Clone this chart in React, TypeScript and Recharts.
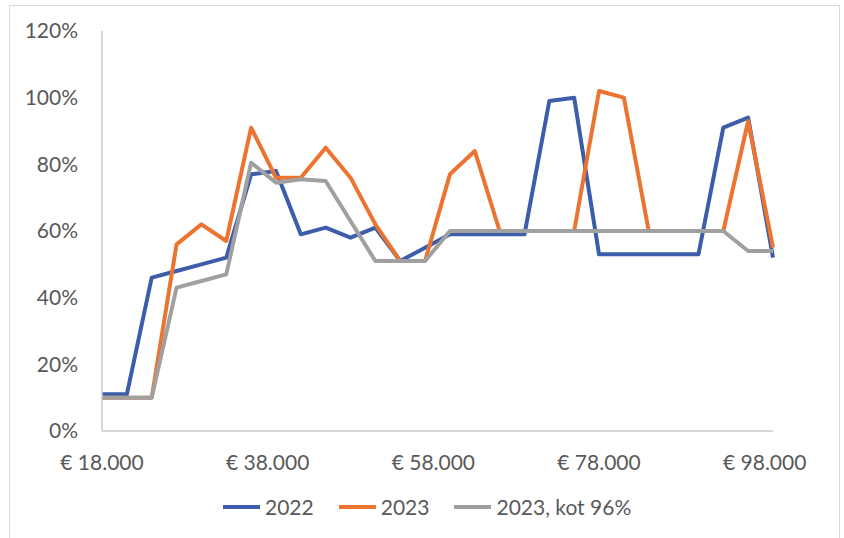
import React from "react";
import { LineChart, Line, XAxis, YAxis } from "recharts";

// inkomen in euro, stap van 3.000
const incomes = [
  18000, 21000, 24000, 27000, 30000, 33000, 36000, 39000, 42000, 45000,
  48000, 51000, 54000, 57000, 60000, 63000, 66000, 69000, 72000, 75000,
  78000, 81000, 84000, 87000, 90000, 93000, 96000, 99000,
];

// percentages per reeks
const values2022 = [
  11, 11, 46, 48, 50, 52, 77, 78, 59, 61, 58, 61, 51, 55, 59, 59, 59, 59, 99,
  100, 53, 53, 53, 53, 53, 91, 94, 52,
];
const values2023 = [
  10, 10, 10, 56, 62, 57, 91, 76, 76, 85, 76, 62, 51, 51, 77, 84, 60, 60, 60,
  60, 102, 100, 60, 60, 60, 60, 93, 55,
];
const values2023Kot = [
  10, 10, 10, 43, 45, 47, 80.5, 74.5, 75.5, 75, 63, 51, 51, 51, 60, 60, 60,
  60, 60, 60, 60, 60, 60, 60, 60, 60, 54, 54,
];

const xTicks = [18000, 38000, 58000, 78000, 98000];
const yTicks = [0, 20, 40, 60, 80, 100, 120];

const series = [
  { key: "v2022", name: "2022", color: "#3C5DAA" },
  { key: "v2023", name: "2023", color: "#EC7430" },
  { key: "v2023kot", name: "2023, kot 96%", color: "#A0A0A0" },
];

const TEXT = "#595959";
const AXIS = "#c8c8c8";
const FONT = "Lato, 'Open Sans', sans-serif";

const data = incomes.map((income, i) => ({
  income,
  v2022: values2022[i],
  v2023: values2023[i],
  v2023kot: values2023Kot[i],
}));

const formatEuro = (v: number) => `€ ${Math.round(v / 1000)}.000`;

export default function App() {
  return (
    <div
      style={{
        position: "absolute",
        left: 0,
        top: 0,
        width: 844,
        height: 538,
        overflow: "hidden",
        background: "#fff",
        fontFamily: FONT,
      }}
    >
      <div
        style={{
          position: "absolute",
          left: 9,
          top: 5,
          width: 829,
          height: 560,
          border: "1.5px solid #d9d9d9",
        }}
      />
      <div style={{ position: "absolute", left: 0, top: 0 }}>
        <LineChart
          width={844}
          height={538}
          data={data}
          margin={{ top: 31, right: 71, left: 0, bottom: 0 }}
        >
          <XAxis
            dataKey="income"
            type="number"
            domain={[18000, 99000]}
            ticks={xTicks}
            tickFormatter={formatEuro}
            height={107}
            tickLine={false}
            tickMargin={18}
            axisLine={{ stroke: AXIS, strokeWidth: 1.5 }}
            tick={{ fill: TEXT, fontSize: 21, fontFamily: FONT }}
          />
          <YAxis
            domain={[0, 120]}
            ticks={yTicks}
            tickFormatter={(v) => `${v}%`}
            width={102}
            tickLine={false}
            tickMargin={18}
            axisLine={{ stroke: AXIS, strokeWidth: 1.5 }}
            tick={{ fill: TEXT, fontSize: 21, fontFamily: FONT }}
          />
          {series.map((s) => (
            <Line
              key={s.key}
              dataKey={s.key}
              name={s.name}
              stroke={s.color}
              strokeWidth={4}
              strokeLinejoin="round"
              dot={false}
              activeDot={false}
              type="linear"
              isAnimationActive={false}
            />
          ))}
        </LineChart>
      </div>

      <div
        style={{
          position: "absolute",
          left: 223,
          top: 494,
          display: "flex",
          alignItems: "center",
          gap: 25,
          fontSize: 21,
          color: TEXT,
        }}
      >
        {series.map((s) => (
          <span key={s.key} style={{ display: "flex", alignItems: "center", gap: 5 }}>
            <span style={{ width: 37, height: 4, background: s.color, display: "inline-block" }} />
            {s.name}
          </span>
        ))}
      </div>
    </div>
  );
}
